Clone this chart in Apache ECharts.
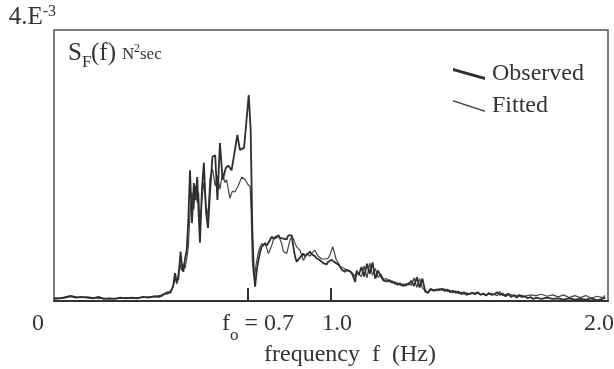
<!DOCTYPE html>
<html>
<head>
<meta charset="utf-8">
<script src="https://cdn.jsdelivr.net/npm/echarts@6/dist/echarts.min.js"></script>
<style>
  html, body { margin: 0; padding: 0; background: #fff; }
  #chart { width: 614px; height: 369px; }
</style>
</head>
<body>
<div id="chart"></div>
<script>
// spectrum S_F(f), values in units of 1e-3 N^2 sec, [frequency Hz, value]
const observed = [
  [0.00,0.03],[0.02,0.04],[0.04,0.05],[0.06,0.07],[0.08,0.05],[0.10,0.06],[0.12,0.05],[0.14,0.04],
  [0.16,0.06],[0.18,0.03],[0.20,0.04],[0.22,0.03],[0.24,0.05],[0.26,0.04],[0.28,0.05],[0.30,0.04],
  [0.32,0.06],[0.34,0.05],[0.36,0.07],[0.38,0.06],[0.39,0.09],[0.40,0.10],[0.41,0.13],[0.42,0.12],
  [0.425,0.17],[0.43,0.22],[0.437,0.41],[0.443,0.28],[0.449,0.33],[0.457,0.73],[0.462,0.52],[0.467,0.43],
  [0.473,0.62],[0.479,0.75],[0.485,1.20],[0.491,1.93],[0.498,1.15],[0.505,1.74],[0.511,1.49],[0.517,1.83],
  [0.522,1.30],[0.527,0.86],[0.534,1.64],[0.541,2.04],[0.549,1.30],[0.556,1.08],[0.563,1.59],[0.572,2.13],
  [0.582,2.15],[0.590,1.49],[0.599,2.33],[0.609,1.79],[0.620,1.96],[0.629,2.00],[0.641,1.93],[0.652,2.20],
  [0.662,2.45],[0.671,2.23],[0.686,2.26],[0.695,2.67],[0.703,3.04],[0.710,2.52],[0.716,1.05],[0.722,0.40],
  [0.726,0.21],[0.732,0.45],[0.738,0.60],[0.744,0.72],[0.750,0.80],[0.756,0.78],[0.762,0.85],[0.768,0.82],
  [0.774,0.84],[0.780,0.90],[0.786,0.95],[0.792,0.92],[0.798,0.90],[0.804,0.94],[0.810,0.97],[0.816,0.93],
  [0.822,0.95],[0.828,0.92],[0.834,0.94],[0.840,0.91],[0.846,0.97],[0.852,0.95],[0.858,0.97],[0.864,0.80],
  [0.870,0.66],[0.876,0.58],[0.882,0.61],[0.888,0.63],[0.894,0.67],[0.900,0.70],[0.906,0.66],[0.912,0.65],
  [0.918,0.70],[0.924,0.73],[0.930,0.69],[0.936,0.70],[0.942,0.66],[0.948,0.63],[0.954,0.61],[0.960,0.60],
  [0.966,0.58],[0.972,0.56],[0.978,0.57],[0.984,0.54],[0.990,0.58],[0.996,0.60],[1.002,0.61],[1.008,0.60],
  [1.014,0.57],[1.020,0.55],[1.026,0.54],[1.032,0.51],[1.039,0.46],[1.045,0.44],[1.050,0.43],[1.056,0.46],
  [1.062,0.48],[1.068,0.44],[1.075,0.41],[1.081,0.35],[1.087,0.28],[1.093,0.45],[1.10,0.38],[1.11,0.50],
  [1.12,0.36],[1.13,0.55],[1.14,0.40],[1.15,0.57],[1.16,0.33],[1.17,0.45],[1.18,0.36],[1.19,0.30],
  [1.20,0.29],[1.21,0.31],[1.22,0.27],[1.23,0.28],[1.24,0.24],[1.25,0.26],[1.26,0.22],[1.27,0.25],
  [1.28,0.24],[1.29,0.30],[1.30,0.22],[1.31,0.35],[1.32,0.20],[1.33,0.33],[1.34,0.14],[1.35,0.12],
  [1.36,0.18],[1.37,0.15],[1.38,0.17],[1.39,0.16],[1.40,0.18],[1.41,0.15],[1.42,0.17],[1.43,0.13],
  [1.44,0.15],[1.45,0.12],[1.46,0.14],[1.47,0.10],[1.48,0.13],[1.49,0.09],[1.50,0.11],[1.51,0.12],
  [1.52,0.10],[1.53,0.13],[1.54,0.09],[1.55,0.11],[1.56,0.08],[1.57,0.12],[1.58,0.09],[1.59,0.10],
  [1.60,0.13],[1.61,0.09],[1.62,0.11],[1.63,0.07],[1.64,0.10],[1.65,0.06],[1.66,0.09],[1.67,0.05],
  [1.68,0.08],[1.69,0.06],[1.70,0.07],[1.71,0.04],[1.72,0.06],[1.73,0.03],[1.74,0.05],[1.76,0.03],
  [1.78,0.05],[1.80,0.03],[1.82,0.04],[1.84,0.02],[1.86,0.04],[1.88,0.02],[1.90,0.03],[1.92,0.02],
  [1.94,0.04],[1.96,0.01],[1.98,0.03],[1.99,0.05]
];

const fitted = [
  [0.00,0.05],[0.02,0.04],[0.04,0.06],[0.06,0.08],[0.08,0.06],[0.10,0.05],[0.12,0.06],[0.14,0.05],
  [0.16,0.04],[0.18,0.04],[0.20,0.03],[0.22,0.04],[0.24,0.04],[0.26,0.05],[0.28,0.04],[0.30,0.05],
  [0.32,0.05],[0.34,0.06],[0.36,0.06],[0.38,0.08],[0.39,0.07],[0.40,0.12],[0.41,0.10],[0.42,0.15],
  [0.43,0.20],[0.437,0.35],[0.443,0.25],[0.449,0.40],[0.455,0.55],[0.460,0.45],[0.467,0.55],[0.473,0.48],
  [0.479,0.62],[0.485,0.80],[0.491,1.30],[0.498,1.60],[0.505,1.35],[0.511,1.70],[0.517,1.45],[0.522,1.60],
  [0.527,1.10],[0.534,1.50],[0.541,1.75],[0.549,1.40],[0.556,1.25],[0.563,1.80],[0.572,1.95],[0.582,1.70],
  [0.590,1.85],[0.599,1.65],[0.609,1.90],[0.616,1.75],[0.623,1.79],[0.635,1.52],[0.644,1.62],[0.653,1.61],
  [0.665,1.70],[0.678,1.83],[0.690,1.79],[0.700,1.72],[0.708,1.69],[0.712,1.30],[0.716,0.60],[0.720,0.40],
  [0.724,0.35],[0.730,0.55],[0.738,0.72],[0.744,0.80],[0.750,0.85],[0.756,0.82],[0.762,0.86],[0.768,0.78],
  [0.774,0.70],[0.780,0.76],[0.786,0.82],[0.792,0.90],[0.798,0.95],[0.804,0.96],[0.810,0.97],[0.816,0.97],
  [0.822,0.85],[0.828,0.73],[0.834,0.72],[0.840,0.70],[0.846,0.80],[0.852,0.90],[0.858,0.95],[0.864,0.92],
  [0.870,0.85],[0.876,0.80],[0.882,0.78],[0.888,0.75],[0.894,0.68],[0.900,0.60],[0.906,0.64],[0.912,0.70],
  [0.918,0.68],[0.924,0.66],[0.930,0.70],[0.936,0.72],[0.942,0.75],[0.948,0.70],[0.954,0.66],[0.960,0.64],
  [0.966,0.62],[0.972,0.60],[0.978,0.62],[0.984,0.60],[0.990,0.63],[0.996,0.68],[1.002,0.75],[1.006,0.80],
  [1.012,0.72],[1.018,0.62],[1.024,0.58],[1.033,0.51],[1.040,0.50],[1.048,0.48],[1.056,0.45],[1.064,0.44],
  [1.072,0.43],[1.080,0.40],[1.087,0.36],[1.093,0.43],[1.10,0.42],[1.11,0.36],[1.12,0.52],[1.13,0.34],
  [1.14,0.56],[1.15,0.38],[1.16,0.48],[1.17,0.35],[1.18,0.40],[1.19,0.32],[1.20,0.33],[1.21,0.28],
  [1.22,0.30],[1.23,0.25],[1.24,0.27],[1.25,0.23],[1.26,0.25],[1.27,0.22],[1.28,0.27],[1.29,0.23],
  [1.30,0.34],[1.31,0.20],[1.32,0.33],[1.33,0.19],[1.34,0.16],[1.35,0.13],[1.36,0.16],[1.37,0.17],
  [1.38,0.15],[1.39,0.18],[1.40,0.16],[1.41,0.18],[1.42,0.14],[1.43,0.16],[1.44,0.12],[1.45,0.15],
  [1.46,0.11],[1.47,0.13],[1.48,0.10],[1.49,0.12],[1.50,0.10],[1.52,0.12],[1.54,0.10],[1.56,0.09],
  [1.58,0.11],[1.60,0.08],[1.61,0.14],[1.62,0.08],[1.64,0.11],[1.66,0.07],[1.68,0.09],[1.70,0.07],
  [1.72,0.09],[1.74,0.08],[1.76,0.10],[1.78,0.07],[1.80,0.09],[1.82,0.06],[1.84,0.09],[1.86,0.05],
  [1.88,0.08],[1.90,0.05],[1.92,0.08],[1.94,0.04],[1.96,0.07],[1.98,0.05],[1.99,0.08]
];

const xTickValues = [0.7, 1.0];
const xLabelValues = [0, 0.7, 1.0, 2.0];
const yMax = 4;

const serif = "'Liberation Serif', 'DejaVu Serif', serif";
const ink = "#333";

const chart = echarts.init(document.getElementById("chart"));

// pieces of the "S_F(f)  N^2 sec" label
function titlePart(text, left, top, size) {
  return {
    type: "text",
    left: left,
    top: top,
    style: { text: text, fill: ink, font: size + "px " + serif },
  };
}

const tickFont = { fontSize: 24, fontFamily: serif, color: ink, lineHeight: 26, verticalAlign: "top" };

chart.setOption({
  animation: false,
  backgroundColor: "#fff",
  textStyle: { fontFamily: serif },
  grid: {
    left: 54,
    right: 6,
    top: 30,
    bottom: 68,
    outerBoundsMode: "none",
    show: true,
    borderColor: "#555",
    borderWidth: 1.5,
  },
  graphic: [
    titlePart("S", 68, 41, 25),
    titlePart("F", 82, 54, 17),
    titlePart("(f)", 91, 41, 25),
    titlePart("N", 122, 46, 17),
    titlePart("2", 134, 43, 12),
    titlePart("sec", 140, 46, 17),
  ],
  legend: {
    orient: "vertical",
    left: 448,
    top: 56,
    itemWidth: 36,
    itemHeight: 12,
    itemGap: 6,
    textStyle: { fontSize: 24, fontFamily: serif, color: ink, lineHeight: 26 },
    data: [
      { name: "Observed", icon: "path://M0,0 L32,9 L32,12 L0,3 Z" },
      { name: "Fitted", icon: "path://M0,0 L32,10.5 L32,12 L0,1.5 Z" },
    ],
  },
  xAxis: {
    type: "value",
    min: 0,
    max: 2,
    splitLine: { show: false },
    axisLine: { lineStyle: { color: ink, width: 2 } },
    axisTick: {
      show: true,
      inside: true,
      length: 13,
      customValues: xTickValues,
      lineStyle: { color: ink, width: 2 },
    },
    axisLabel: {
      customValues: xLabelValues,
      margin: 11,
      color: ink,
      fontSize: 24,
      fontFamily: serif,
      formatter: (v) => {
        if (v === 0) return "{z|0}";
        if (Math.abs(v - 0.7) < 1e-6) return "{fa|f}{o|o}{f| = 0.7}";
        if (Math.abs(v - 1) < 1e-6) return "{one|1.0}";
        return "{two|2.0}";
      },
      rich: {
        z: { ...tickFont, padding: [0, 32, 0, 0] },
        fa: { ...tickFont, padding: [0, 0, 0, 20] },
        f: tickFont,
        o: { fontSize: 17, fontFamily: serif, color: ink, lineHeight: 32, verticalAlign: "bottom" },
        one: { ...tickFont, padding: [0, 0, 0, 12] },
        two: { ...tickFont, padding: [0, 18, 0, 0] },
      },
    },
    name: "frequency  f  (Hz)",
    nameLocation: "middle",
    nameGap: 42,
    nameMoveOverlap: false,
    nameTextStyle: { fontSize: 24, fontFamily: serif, color: ink, padding: [0, 0, 0, 38] },
  },
  yAxis: {
    type: "value",
    min: 0,
    max: yMax,
    splitLine: { show: false },
    axisLine: { show: false },
    axisTick: { show: false },
    axisLabel: {
      customValues: [yMax],
      margin: -2,
      verticalAlign: "bottom",
      formatter: () => "{a|4.E}{b|-3}",
      rich: {
        a: { fontSize: 25, fontFamily: serif, color: ink, lineHeight: 26, verticalAlign: "bottom" },
        b: { fontSize: 16, fontFamily: serif, color: ink, lineHeight: 16, verticalAlign: "top" },
      },
    },
  },
  series: [
    {
      name: "Fitted",
      type: "line",
      data: fitted,
      showSymbol: false,
      symbol: "none",
      itemStyle: { color: "#444" },
      lineStyle: { color: "#444", width: 1.2 },
      z: 2,
    },
    {
      name: "Observed",
      type: "line",
      data: observed,
      showSymbol: false,
      symbol: "none",
      itemStyle: { color: "#2e2e2e" },
      lineStyle: { color: "#2e2e2e", width: 1.8 },
      z: 3,
    },
  ],
});
</script>
</body>
</html>
